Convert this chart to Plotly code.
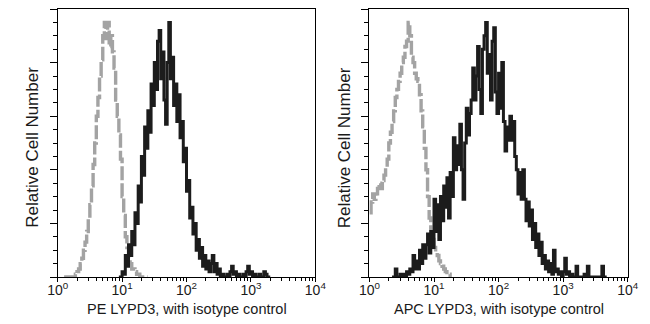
import plotly.graph_objects as go

# ---- data: histogram counts on a log10 channel grid (step 0.025 decades) ----
BIN_STEP = 0.025

pe_iso_start = 0.10
pe_iso_counts = [0, 0, 0, 0, 0, 0, 0, 1, 2, 3, 5, 7, 10, 13, 17, 22, 27, 34, 42, 50,
                 60, 67, 75, 81, 90, 95, 89, 95, 86, 90, 84, 78, 66, 60, 53, 44, 30, 23, 15, 11,
                 7, 5, 3, 3, 2, 1, 1, 0, 0, 0, 0, 0, 0]

pe_lypd3_start = 0.95
pe_lypd3_counts = [0, 0, 2, 1, 8, 4, 12, 8, 17, 12, 24, 20, 34, 28, 45, 38, 56, 48, 62, 54,
                   72, 64, 80, 70, 88, 92, 74, 84, 66, 57, 80, 95, 74, 82, 64, 72, 58, 68, 52, 58,
                   43, 48, 32, 36, 22, 26, 16, 20, 10, 14, 7, 11, 4, 8, 3, 6, 2, 5, 8, 2,
                   5, 1, 3, 0, 1, 0, 0, 1, 0, 2, 4, 1, 2, 0, 1, 0, 0, 1, 0, 2,
                   4, 1, 2, 0, 1, 0, 0, 1, 0, 0, 2, 1, 0, 0, 0]

apc_iso_start = 0.0
apc_iso_counts = [24, 28, 31, 29, 31, 33, 35, 33, 36, 38, 41, 44, 50, 54, 58, 62, 67, 70, 73, 76,
                  80, 82, 86, 88, 95, 90, 82, 80, 76, 74, 73, 68, 62, 56, 48, 40, 30, 22, 16, 14,
                  11, 9, 8, 6, 5, 4, 3, 2, 1, 1, 0, 0]

apc_lypd3_start = 0.35
apc_lypd3_counts = [0, 0, 3, 0, 0, 1, 0, 1, 0, 2, 1, 3, 2, 8, 3, 6, 3, 10, 5, 12,
                    7, 12, 16, 9, 17, 11, 29, 17, 27, 14, 30, 21, 34, 26, 37, 22, 39, 30, 52, 40,
                    49, 42, 57, 40, 29, 50, 63, 53, 61, 66, 78, 66, 75, 86, 70, 61, 85, 90, 95, 76,
                    83, 66, 88, 93, 69, 61, 76, 63, 80, 58, 47, 56, 51, 60, 51, 58, 45, 40, 31, 39,
                    29, 40, 29, 21, 28, 19, 25, 14, 20, 11, 16, 8, 13, 5, 8, 3, 6, 2, 5, 1,
                    10, 2, 3, 1, 2, 0, 2, 7, 1, 2, 0, 1, 0, 0, 4, 0, 0, 0, 0, 1,
                    0, 4, 0, 0, 0, 0, 0, 0, 0, 0, 4, 0, 0, 0]

x_tick_vals = [1, 10, 100, 1000, 10000]
x_tick_text = ["10<sup>0</sup>", "10<sup>1</sup>", "10<sup>2</sup>", "10<sup>3</sup>", "10<sup>4</sup>"]
x_minor_vals = [m * 10 ** k for k in range(4) for m in range(2, 10)]

panel_titles = ["PE LYPD3, with isotype control", "APC LYPD3, with isotype control"]
y_title = "Relative Cell Number"


def channels(start, counts):
    return [10 ** (start + i * BIN_STEP) for i in range(len(counts))]


W, H = 650, 324
FONT = "Liberation Sans, Arial, sans-serif"
TXT = "#1a1a1a"
GRAY = "#a3a3a3"
BLACK = "#1c1c1c"

fig = go.Figure()

series = [
    (pe_iso_start, pe_iso_counts, "x", "y", True),
    (pe_lypd3_start, pe_lypd3_counts, "x", "y", False),
    (apc_iso_start, apc_iso_counts, "x2", "y2", True),
    (apc_lypd3_start, apc_lypd3_counts, "x2", "y2", False),
]
for start, counts, xa, ya, iso in series:
    fig.add_trace(go.Scatter(
        x=channels(start, counts), y=counts, xaxis=xa, yaxis=ya,
        mode="lines", line_shape="hv",
        line=dict(color=GRAY if iso else BLACK, width=3.4 if iso else 3,
                  dash="14px,3px" if iso else "solid"),
        showlegend=False, hoverinfo="skip"))

px_left = [(48.3, 315.0), (371.0, 638.3)]
y_dom = [1 - 277 / H, 1 - 9 / H]

for i, (a, b) in enumerate(px_left):
    sfx = "" if i == 0 else "2"
    fig.update_layout(**{
        "xaxis" + sfx: dict(
            type="log", range=[0, 4], domain=[a / W, b / W], anchor="y" + sfx,
            showgrid=False, zeroline=False, showline=True, linecolor="black", linewidth=1.3,
            mirror=True, ticks="outside", ticklen=4, tickwidth=1, tickcolor="black",
            tickvals=x_tick_vals, ticktext=x_tick_text, ticklabelstandoff=-4,
            tickfont=dict(family=FONT, size=14, color=TXT),
            minor=dict(tickvals=x_minor_vals, ticks="outside", ticklen=2.5, tickwidth=1,
                       tickcolor="black", showgrid=False),
        ),
        "yaxis" + sfx: dict(
            range=[0, 100], domain=y_dom, anchor="x" + sfx,
            showgrid=False, zeroline=False, showline=True, linecolor="black", linewidth=1.3,
            mirror=True, ticks="outside", ticklen=7, tickwidth=1, tickcolor="black",
            tickvals=[0, 20, 40, 60, 80, 100], showticklabels=False,
            minor=dict(dtick=5, ticks="outside", ticklen=4, tickwidth=1,
                       tickcolor="black", showgrid=False),
        ),
    })

annotations = []
for i, (a, b) in enumerate(px_left):
    annotations.append(dict(
        text=panel_titles[i], x=(a + b) / 2 / W, y=1 - 309 / H,
        xref="paper", yref="paper", xanchor="center", yanchor="middle",
        showarrow=False, font=dict(family=FONT, size=14.5, color=TXT)))
    annotations.append(dict(
        text=y_title, x=(22 if i == 0 else 345.5) / W, y=1 - 147.5 / H,
        xref="paper", yref="paper", xanchor="center", yanchor="middle", textangle=-90,
        showarrow=False, font=dict(family=FONT, size=17, color=TXT)))

fig.update_layout(
    width=W, height=H, autosize=False,
    margin=dict(l=0, r=0, t=0, b=0, pad=0),
    paper_bgcolor="white", plot_bgcolor="white",
    annotations=annotations,
)

fig.write_html("out.html", config={"displayModeBar": False})
